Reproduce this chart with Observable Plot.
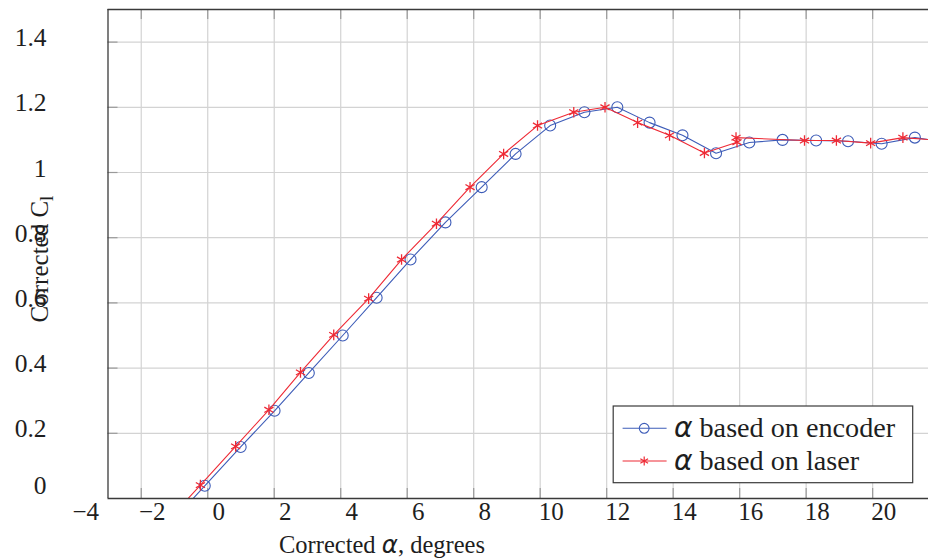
<!DOCTYPE html>
<html>
<head>
<meta charset="utf-8">
<script src="https://cdn.jsdelivr.net/npm/d3@7"></script>
<script src="https://cdn.jsdelivr.net/npm/@observablehq/plot@0.6"></script>
<style>
  html, body { margin: 0; padding: 0; background: #fff; }
  #chart { width: 928px; height: 559px; overflow: hidden; }
</style>
</head>
<body>
<div id="chart"></div>
<script>
// Corrected lift coefficient against corrected angle of attack, with the
// angle taken either from the shaft encoder or from the laser measurement.
const encoderAlpha = [-1.12, -0.09, 0.99, 2.01, 3.04, 4.06, 5.08, 6.10, 7.15, 8.24, 9.26, 10.30, 11.33, 12.32, 13.29, 14.28, 15.29, 16.29, 17.29, 18.30, 19.26, 20.27, 21.27, 22.27];
const encoderCl    = [-0.076, 0.039, 0.158, 0.269, 0.385, 0.500, 0.616, 0.733, 0.847, 0.955, 1.057, 1.144, 1.185, 1.200, 1.153, 1.114, 1.059, 1.092, 1.100, 1.098, 1.096, 1.088, 1.107, 1.092];

const laserAlpha = [-1.26, -0.22, 0.84, 1.84, 2.79, 3.79, 4.84, 5.83, 6.88, 7.89, 8.90, 9.92, 11.01, 11.95, 12.93, 13.89, 14.94, 15.92, 15.89, 17.95, 18.91, 19.94, 20.91, 21.92];
const laserCl    = [-0.074, 0.041, 0.160, 0.272, 0.387, 0.502, 0.613, 0.733, 0.843, 0.955, 1.057, 1.144, 1.185, 1.200, 1.153, 1.114, 1.060, 1.093, 1.107, 1.098, 1.098, 1.090, 1.107, 1.099];

const xTicks = [-4, -2, 0, 2, 4, 6, 8, 10, 12, 14, 16, 18, 20];
const yTicks = [0, 0.2, 0.4, 0.6, 0.8, 1, 1.2, 1.4];

const seriesNames = ["based on encoder", "based on laser"];
const xTitle = ["Corrected ", "\u03b1", ", degrees"];
const yTitle = ["Corrected C", "l"];

// layout and style
const W = 928, H = 559;
const M = {top: 9, right: 0, bottom: 61, left: 107.5};
const innerW = W - M.left - M.right, innerH = H - M.top - M.bottom;
const xDomain = [-3, 21.68];
const yDomain = [0, 1.5];
const tickLen = 10;
const BLUE = "#3d5cb8", RED = "#ee2a35";
const GRID = "#d3d3d3", AXIS = "#3a3a3a", TICK = "#9a9a9a";
const SERIF = "Liberation Serif";
const GREEK = "DejaVu Sans";
const INK = "#1e1e1e";

const encoder = encoderAlpha.map((a, i) => ({alpha: a, cl: encoderCl[i]}));
const laser = laserAlpha.map((a, i) => ({alpha: a, cl: laserCl[i]}));

const insideX = v => v > xDomain[0] && v < xDomain[1];
const gridXs = xTicks.filter(insideX);
const gridYs = yTicks.filter(v => v > yDomain[0] && v < yDomain[1]);
const fmt = d => d < 0 ? "\u2212" + Math.abs(d) : String(d);

const plot = Plot.plot({
  width: W, height: H,
  marginTop: M.top, marginRight: M.right, marginBottom: M.bottom, marginLeft: M.left,
  x: {domain: xDomain},
  y: {domain: yDomain},
  style: {fontFamily: SERIF, fontSize: "25px", color: INK, background: "#fff", overflow: "visible"},
  marks: [
    // grid
    Plot.ruleX(gridXs, {stroke: GRID, strokeWidth: 1.2}),
    Plot.ruleY(gridYs, {stroke: GRID, strokeWidth: 1.2}),
    // inward tick marks on bottom, top and left edges
    Plot.ruleX(gridXs, {stroke: TICK, strokeWidth: 1.2, insetTop: innerH - tickLen}),
    Plot.ruleX(gridXs, {stroke: TICK, strokeWidth: 1.2, insetBottom: innerH - tickLen}),
    Plot.ruleY(gridYs, {stroke: TICK, strokeWidth: 1.2, insetRight: innerW - tickLen}),
    // series
    Plot.line(encoder, {x: "alpha", y: "cl", stroke: BLUE, strokeWidth: 1.1, clip: true}),
    Plot.dot(encoder, {x: "alpha", y: "cl", r: 5.5, symbol: "circle", stroke: BLUE, fill: "none", strokeWidth: 1.1, clip: true}),
    Plot.line(laser, {x: "alpha", y: "cl", stroke: RED, strokeWidth: 1.1, clip: true}),
    Plot.dot(laser, {x: "alpha", y: "cl", r: 5, symbol: "asterisk", stroke: RED, strokeWidth: 1.3, clip: true}),
    // frame edges
    Plot.ruleY([yDomain[1]], {stroke: AXIS, strokeWidth: 1.3}),
    Plot.ruleX([xDomain[0]], {stroke: AXIS, strokeWidth: 1.3}),
    Plot.ruleY([0], {stroke: AXIS, strokeWidth: 1.3}),
    // tick labels
    Plot.axisX(xTicks, {anchor: "bottom", tickSize: 0, tickPadding: 4, dx: 11, tickFormat: fmt,
      label: null, fontFamily: SERIF, fontSize: 25, fill: INK}),
    Plot.axisY(yTicks.filter(v => v > 0), {anchor: "left", tickSize: 0, tickPadding: 61.5, dy: -4,
      tickFormat: fmt, label: null, fontFamily: SERIF, fontSize: 25.5, fill: INK}),
    Plot.axisY([0], {anchor: "left", tickSize: 0, tickPadding: 61.5, dy: -13,
      tickFormat: fmt, label: null, fontFamily: SERIF, fontSize: 25.5, fill: INK})
  ]
});

document.getElementById("chart").appendChild(plot);

const svg = d3.select(plot);

// axis titles with a Greek alpha and a subscript
const xt = svg.append("text")
  .attr("x", 382).attr("y", 553)
  .attr("text-anchor", "middle")
  .attr("font-family", SERIF).attr("font-size", 24.5).attr("fill", INK);
xt.append("tspan").text(xTitle[0]);
xt.append("tspan").attr("font-family", GREEK).attr("font-style", "italic").text(xTitle[1]);
xt.append("tspan").text(xTitle[2]);

const yt = svg.append("text")
  .attr("transform", "translate(48,259) rotate(-90)")
  .attr("text-anchor", "middle")
  .attr("font-family", SERIF).attr("font-size", 25).attr("fill", INK);
yt.append("tspan").text(yTitle[0]);
yt.append("tspan").attr("dy", 5).attr("font-size", 19).text(yTitle[1]);

// legend in the lower right corner of the frame
const lgW = 299.5, lgH = 76.7, lgInset = 15.3;
const lg = svg.append("g")
  .attr("transform", `translate(${W - M.right - lgInset - lgW},${M.top + innerH - lgInset - lgH})`);
lg.append("rect").attr("width", lgW).attr("height", lgH)
  .attr("fill", "#fff").attr("stroke", AXIS).attr("stroke-width", 1.2);
const rows = [
  {name: seriesNames[0], color: BLUE, symbol: d3.symbolCircle, size: 75, sw: 1.1, y: 22.3},
  {name: seriesNames[1], color: RED, symbol: d3.symbolAsterisk, size: 55, sw: 1.2, y: 55}
];
for (const r of rows) {
  lg.append("line").attr("x1", 9.4).attr("x2", 53.4).attr("y1", r.y).attr("y2", r.y)
    .attr("stroke", r.color).attr("stroke-width", 1.1);
  lg.append("path").attr("d", d3.symbol(r.symbol, r.size)())
    .attr("transform", `translate(31,${r.y})`)
    .attr("fill", "none").attr("stroke", r.color).attr("stroke-width", r.sw);
  const t = lg.append("text").attr("x", 60.7).attr("y", r.y + 8.5)
    .attr("text-anchor", "start")
    .attr("font-family", SERIF).attr("font-size", 28.2).attr("fill", INK);
  t.append("tspan").attr("font-family", GREEK).attr("font-style", "italic").text("\u03b1");
  t.append("tspan").text(" " + r.name);
}
</script>
</body>
</html>
